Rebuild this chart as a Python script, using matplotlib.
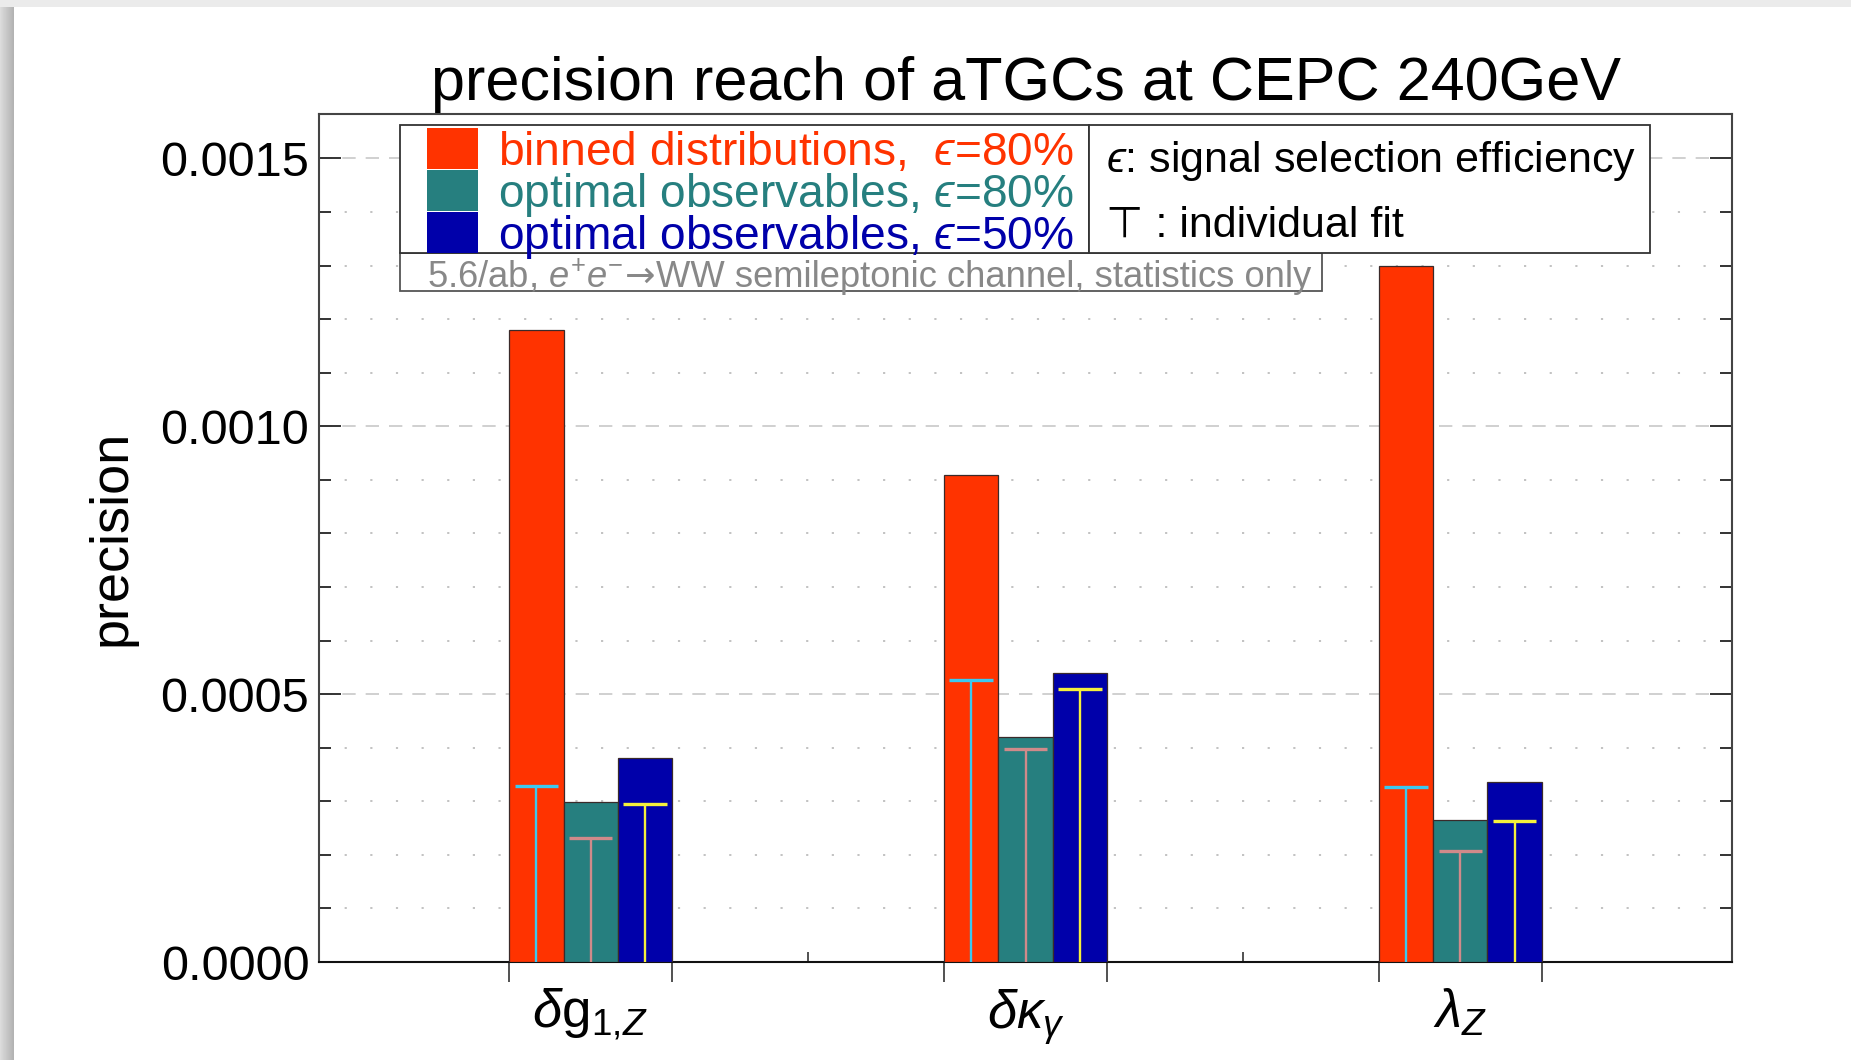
import numpy as np
import matplotlib
matplotlib.use("Agg")
import matplotlib.pyplot as plt
from matplotlib.patches import Rectangle
from matplotlib.ticker import MultipleLocator, FixedLocator, FormatStrFormatter

plt.rcParams['font.family'] = ['Liberation Sans', 'DejaVu Sans']
plt.rcParams['mathtext.fontset'] = 'custom'
plt.rcParams['mathtext.rm'] = 'Liberation Sans'
plt.rcParams['mathtext.it'] = 'Liberation Sans:italic'
plt.rcParams['mathtext.bf'] = 'Liberation Sans:bold'
plt.rcParams['mathtext.fallback'] = 'stixsans'

# ---------------- data ----------------
categories = [r'$\delta\mathrm{g}_{1,\!Z}$', r'$\delta\kappa_{\gamma}$', r'$\lambda_{Z}$']
binned_eff80 = [0.00118, 0.00091, 0.00130]
optimal_eff80 = [0.000299, 0.000420, 0.000266]
optimal_eff50 = [0.000380, 0.000540, 0.000336]
indiv_binned_eff80 = [0.000329, 0.000526, 0.000327]
indiv_optimal_eff80 = [0.000232, 0.000397, 0.000207]
indiv_optimal_eff50 = [0.000295, 0.000509, 0.000263]
series_labels = ['binned distributions,  $\u03f5$=80%',
                 'optimal observables, $\u03f5$=80%',
                 'optimal observables, $\u03f5$=50%']
y_ticks = [0.0, 0.0005, 0.0010, 0.0015]

# ---------------- style ----------------
bar_colors = ['#ff3300', '#267f7f', '#0000aa']
fit_colors = ['#3cc8f0', '#d08a8a', '#f5f03c']
W, H = 1851, 1060

fig = plt.figure(figsize=(W / 100, H / 100), dpi=100)
fig.patch.set_facecolor('white')

def P(x, y):
    return (x / W, 1 - y / H)

# screenshot shadow
fig.add_artist(Rectangle((0, 1 - 7 / H), 1, 7 / H, transform=fig.transFigure,
                         facecolor='#ebebeb', edgecolor='none', zorder=0))
sh = fig.add_axes([0, 0, 13 / W, 1 - 7 / H])
sh.imshow(np.linspace(0.86, 0.70, 13)[None, :], cmap='gray', vmin=0, vmax=1,
          aspect='auto', interpolation='bilinear')
sh.axis('off')

ax = fig.add_axes([319 / W, 1 - 962 / H, (1732 - 319) / W, (962 - 114) / H])

x = np.arange(len(categories))
bw = 0.125
offsets = [-bw, 0.0, bw]
vals = [binned_eff80, optimal_eff80, optimal_eff50]
fits = [indiv_binned_eff80, indiv_optimal_eff80, indiv_optimal_eff50]

for off, v, c in zip(offsets, vals, bar_colors):
    ax.bar(x + off, v, width=bw, color=c, edgecolor='#3a2a2a', linewidth=0.9, zorder=3)

for off, f, c in zip(offsets, fits, fit_colors):
    ax.vlines(x + off, 0, f, colors=c, linewidth=1.7, zorder=4)
    ax.hlines(f, x + off - 0.8 * bw / 2, x + off + 0.8 * bw / 2, colors=c, linewidth=2.4, zorder=4)

ax.set_xlim(-0.625, 2.625)
ax.set_ylim(0, 0.001583)

# y axis
ax.yaxis.set_major_locator(FixedLocator(y_ticks))
ax.yaxis.set_minor_locator(MultipleLocator(0.0001))
ax.yaxis.set_major_formatter(FormatStrFormatter('%.4f'))
ax.tick_params(axis='y', which='both', direction='in', left=True, right=True,
               color='#333333', width=1.4, labelsize=35, pad=7)
ax.tick_params(axis='y', which='major', length=16)
ax.tick_params(axis='y', which='minor', length=8.5)

# grid
ax.grid(axis='y', which='major', color='#c8c8c8', linewidth=1.2, linestyle=(0, (8, 6)), zorder=0)
ax.grid(axis='y', which='minor', color='#bdbdbd', linewidth=1.3, linestyle=(0, (1.2, 13)), zorder=0)
ax.set_axisbelow(True)

# x axis
ax.set_xticks(x)
ax.set_xticklabels(categories)
ax.xaxis.set_minor_locator(FixedLocator(np.concatenate([x - 1.5 * bw, x + 1.5 * bw])))
ax.tick_params(axis='x', which='major', length=0, labelsize=38, pad=18)
ax.tick_params(axis='x', which='minor', direction='out', length=14.5, color='#333333', width=1.2)
sec = ax.secondary_xaxis('bottom')
sec.set_xticks((x[:-1] + x[1:]) / 2)
sec.tick_params(direction='in', length=7, color='#333333', width=1.2, labelbottom=False)
sec.spines['bottom'].set_visible(False)

for s in ax.spines.values():
    s.set_color('#444444')
    s.set_linewidth(1.5)
ax.spines['bottom'].set_color('#111111')

ax.set_title('precision reach of aTGCs at CEPC 240GeV', fontsize=44, pad=10)
fig.text(*P(112, 538), 'precision', rotation=90, ha='center', va='center', fontsize=39)

# ---------------- legend boxes ----------------
def box(x0, y0, x1, y1, ec='#333333', lw=1.3):
    fig.add_artist(Rectangle(P(x0, y1), (x1 - x0) / W, (y1 - y0) / H,
                             transform=fig.transFigure, facecolor='white',
                             edgecolor=ec, linewidth=lw, zorder=5))

box(400, 253, 1322, 291, ec='#555555')
box(400, 125, 1089, 253)
box(1089, 125, 1650, 253)

row_top = [127, 169, 211]
for i, (lab, c) in enumerate(zip(series_labels, bar_colors)):
    y0 = row_top[i]
    fig.add_artist(Rectangle(P(427, y0 + 42), 51 / W, 41.5 / H, transform=fig.transFigure,
                             facecolor=c, edgecolor='none', zorder=6))
    fig.text(*P(498, y0 + 26), lab, color=c, fontsize=33.2, ha='left', va='center', zorder=7)

fig.text(*P(1106, 161), '$\u03f5$: signal selection efficiency', fontsize=31,
         ha='left', va='center', zorder=7)
fig.text(*P(1106, 226), '\u22a4 : individual fit', fontsize=31,
         ha='left', va='center', zorder=7)

# grey note, arrow taken from DejaVu Sans
renderer = fig.canvas.get_renderer()
grey = '#888888'
gy = 287
gfs = 26.2
t1 = fig.text(*P(427, gy), '5.6/ab, $e^{+}e^{-}$', fontsize=gfs, color=grey,
              ha='left', va='baseline', zorder=7)
e1 = t1.get_window_extent(renderer)
t2 = fig.text((e1.x1 + 1) / W, 1 - gy / H, '\u2192', fontsize=gfs, color=grey,
              family='DejaVu Sans', ha='left', va='baseline', zorder=7)
e2 = t2.get_window_extent(renderer)
fig.text((e2.x1 + 1) / W, 1 - gy / H, 'WW semileptonic channel, statistics only',
         fontsize=gfs, color=grey, ha='left', va='baseline', zorder=7)

fig.savefig('out.png', dpi=100)
